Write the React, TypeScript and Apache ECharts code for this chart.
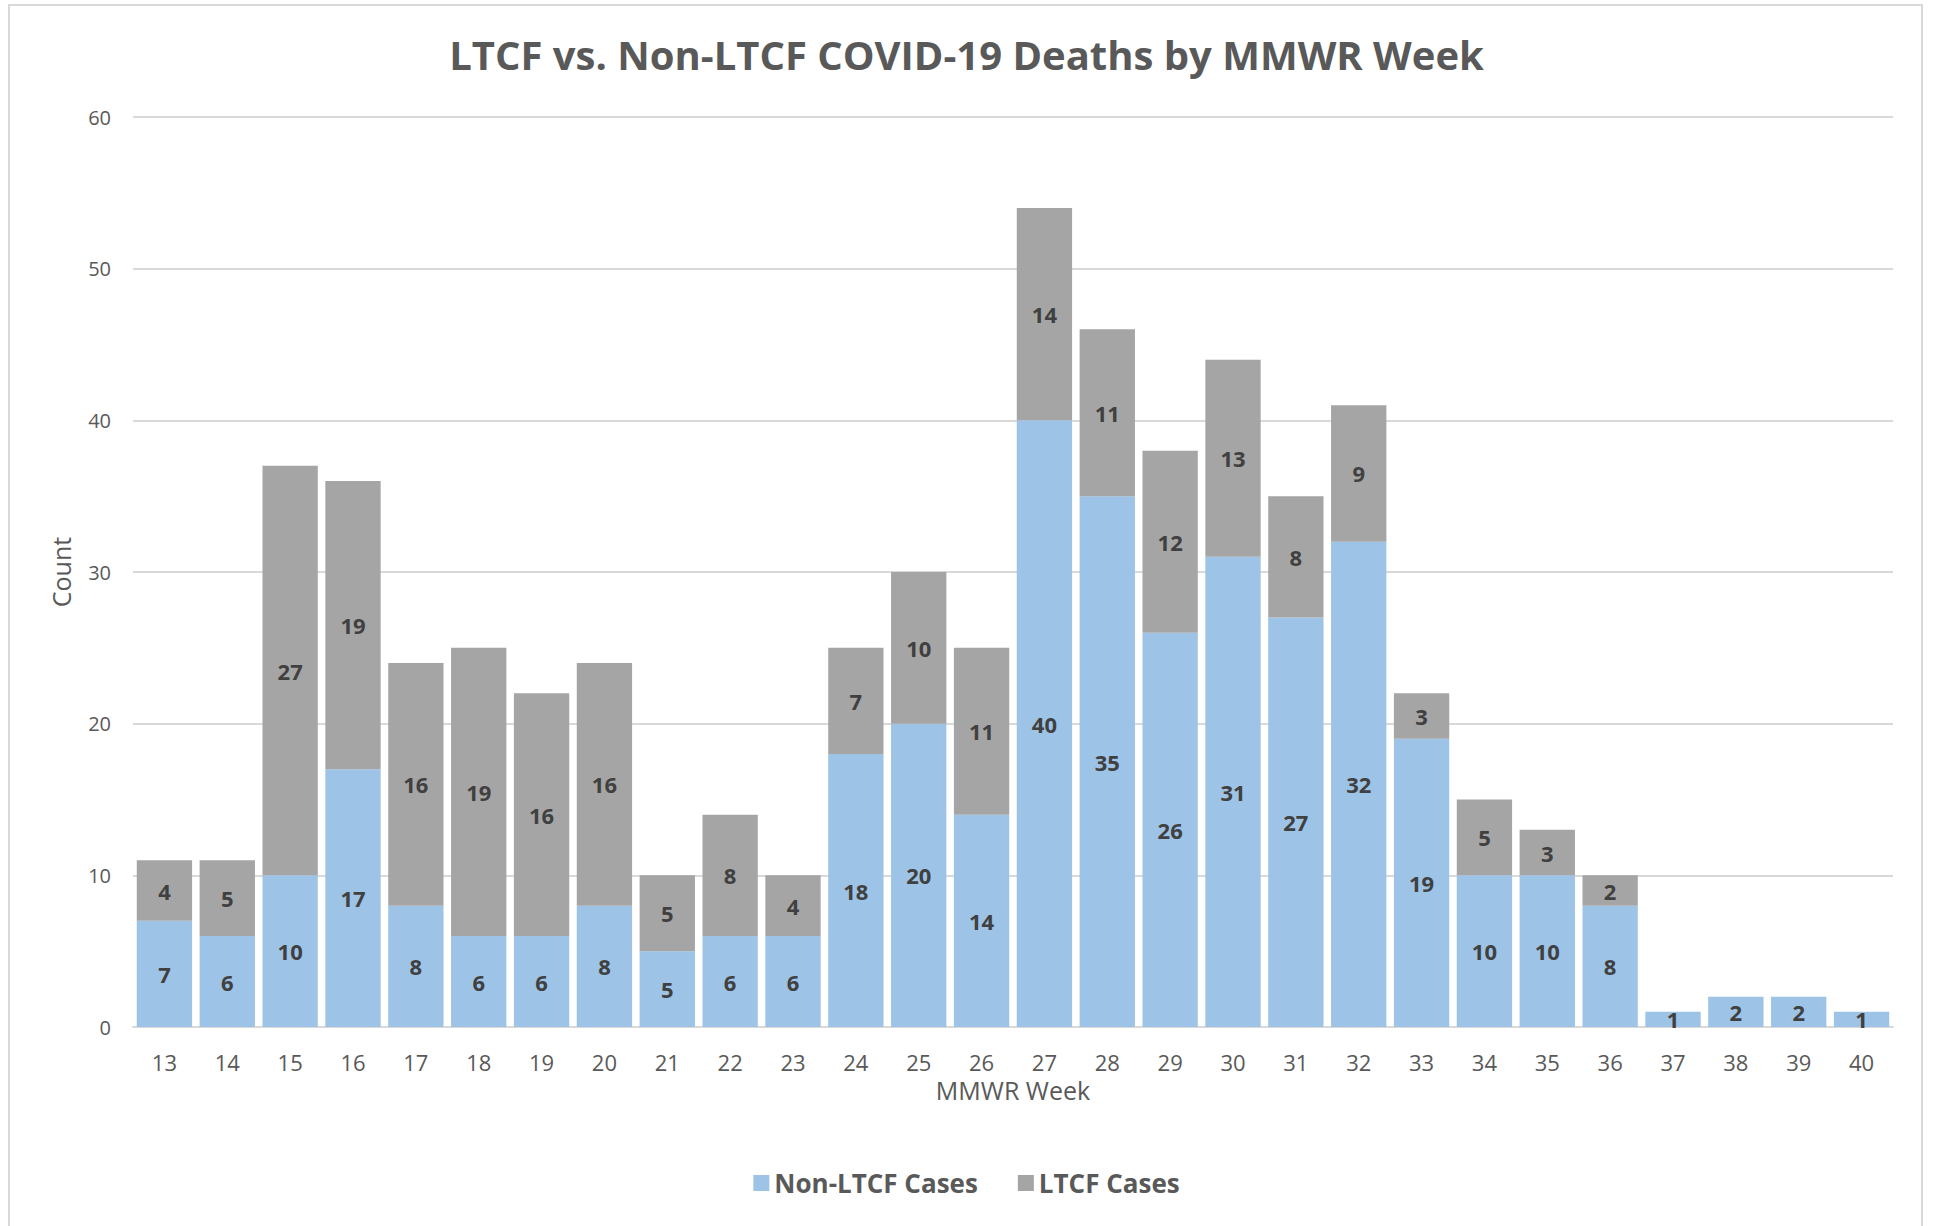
import React, { useEffect, useRef } from "react";
import * as echarts from "echarts";

const weeks = ["13","14","15","16","17","18","19","20","21","22","23","24","25","26","27","28","29","30","31","32","33","34","35","36","37","38","39","40"];
const nonLtcf = [7,6,10,17,8,6,6,8,5,6,6,18,20,14,40,35,26,31,27,32,19,10,10,8,1,2,2,1];
const ltcf = [4,5,27,19,16,19,16,16,5,8,4,7,10,11,14,11,12,13,8,9,3,5,3,2,0,0,0,0];
const yTicks = { min: 0, max: 60, interval: 10 };

const FONT = "'Open Sans', 'Noto Sans', sans-serif";

export default function App() {
  const ref = useRef<HTMLDivElement>(null);
  useEffect(() => {
    if (!ref.current) return;
    const chart = echarts.init(ref.current, null, { renderer: "svg" });
    const label = {
      show: true,
      position: "inside" as const,
      color: "#404040",
      fontFamily: FONT,
      fontWeight: "bold" as const,
      fontSize: 22,
      formatter: (p: any) => (p.value ? String(p.value) : ""),
    };
    chart.setOption({
      animation: false,
      backgroundColor: "#ffffff",
      textStyle: { fontFamily: FONT },
      title: {
        text: "LTCF vs. Non-LTCF COVID-19 Deaths by MMWR Week",
        left: "center",
        top: 29,
        textStyle: { fontFamily: FONT, fontSize: 40, fontWeight: "bold", color: "#595959" },
      },
      graphic: [
        {
          type: "rect",
          shape: { x: 9, y: 5, width: 1913, height: 1260 },
          style: { fill: "none", stroke: "#D9D9D9", lineWidth: 2 },
          silent: true,
          z: -1,
        },
      ],
      legend: {
        bottom: 25,
        left: "center",
        itemWidth: 16,
        itemHeight: 16,
        itemGap: 40,
        icon: "rect",
        textStyle: { fontFamily: FONT, fontSize: 26, fontWeight: "bold", color: "#595959" },
        data: ["Non-LTCF Cases", "LTCF Cases"],
      },
      grid: { left: 133, right: 40, top: 117, bottom: 1226 - 1027 },
      xAxis: {
        type: "category",
        data: weeks,
        name: "MMWR Week",
        nameLocation: "middle",
        nameGap: 50,
        nameTextStyle: { fontFamily: FONT, fontSize: 25, color: "#595959" },
        axisLine: { lineStyle: { color: "#D9D9D9", width: 2 } },
        axisTick: { show: false },
        axisLabel: { fontFamily: FONT, fontSize: 22, color: "#595959", margin: 24 },
      },
      yAxis: {
        type: "value",
        min: yTicks.min,
        max: yTicks.max,
        interval: yTicks.interval,
        name: "Count",
        nameLocation: "middle",
        nameGap: 60,
        nameRotate: 90,
        nameTextStyle: { fontFamily: FONT, fontSize: 25, color: "#595959" },
        axisLine: { show: false },
        axisTick: { show: false },
        axisLabel: { fontFamily: FONT, fontSize: 20, color: "#595959", margin: 22 },
        splitLine: { lineStyle: { color: "#D9D9D9", width: 2 } },
      },
      series: [
        {
          name: "Non-LTCF Cases",
          type: "bar",
          stack: "total",
          data: nonLtcf,
          barCategoryGap: "12%",
          itemStyle: { color: "#9DC3E6" },
          label,
        },
        {
          name: "LTCF Cases",
          type: "bar",
          stack: "total",
          data: ltcf,
          barCategoryGap: "12%",
          itemStyle: { color: "#A5A5A5" },
          label,
        },
      ],
    });
    return () => chart.dispose();
  }, []);
  return (
    <div
      ref={ref}
      style={{ position: "absolute", left: 0, top: 0, width: 1933, height: 1226 }}
    />
  );
}
